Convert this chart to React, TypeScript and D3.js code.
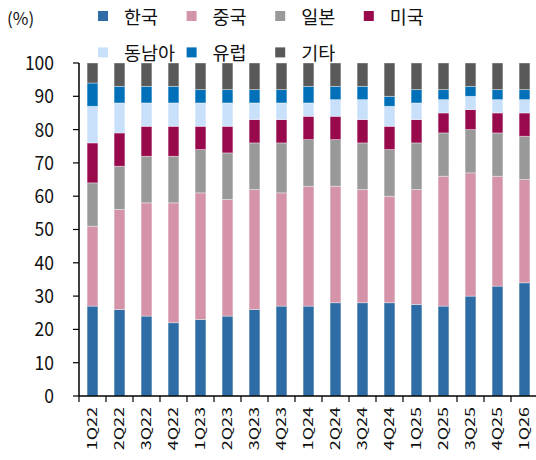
import React from 'react';
import * as d3 from 'd3';

// quarters on the x axis
const quarters = ['1Q22', '2Q22', '3Q22', '4Q22', '1Q23', '2Q23', '3Q23', '4Q23', '1Q24', '2Q24', '3Q24', '4Q24', '1Q25', '2Q25', '3Q25', '4Q25', '1Q26'];

// share by region (%)
const korea = [27, 26, 24, 22, 23, 24, 26, 27, 27, 28, 28, 28, 27.5, 27, 30, 33, 34];
const china = [24, 30, 34, 36, 38, 35, 36, 34, 36, 35, 34, 32, 34.5, 39, 37, 33, 31];
const japan = [13, 13, 14, 14, 13, 14, 14, 15, 14, 14, 14, 14, 14, 13, 13, 13, 13];
const usa = [12, 10, 9, 9, 7, 8, 7, 7, 7, 7, 7, 7, 7, 6, 6, 6, 7];
const seAsia = [11, 9, 7, 7, 7, 7, 5, 5, 4, 5, 6, 6, 5, 4, 4, 4, 4];
const europe = [7, 5, 5, 5, 4, 4, 4, 4, 5, 4, 4, 3, 4, 3, 3, 3, 3];
const others = [6, 7, 7, 7, 8, 8, 8, 8, 7, 7, 7, 10, 8, 8, 7, 8, 8];

const seriesNames = ['한국', '중국', '일본', '미국', '동남아', '유럽', '기타'];
const seriesValues = [korea, china, japan, usa, seAsia, europe, others];
const colors = ['#2d6ca5', '#d493a8', '#999999', '#990a4d', '#c9e0fb', '#0070b8', '#595959'];

const yTicks = [0, 10, 20, 30, 40, 50, 60, 70, 80, 90, 100];

const width = 536;
const height = 460;
const margin = { top: 63, right: 0, bottom: 64, left: 79 };
const font = '"Noto Sans CJK KR", "Noto Sans", sans-serif';

export default function App() {
  const rows = quarters.map((q, i) => {
    const r: any = { q };
    seriesNames.forEach((s, k) => { r[s] = seriesValues[k][i]; });
    return r;
  });
  const stacked = d3.stack().keys(seriesNames)(rows);

  const x = d3.scaleBand()
    .domain(quarters)
    .range([margin.left, margin.left + 27 * quarters.length])
    .paddingInner(0.6)
    .paddingOuter(0.3);
  const bandStep = x.step();
  const y = d3.scaleLinear().domain([0, 100]).range([height - margin.bottom, margin.top]);
  const baseY = y(0);

  return (
    <svg width={width} height={height} style={{ position: 'absolute', left: 0, top: 0 }} fontFamily={font}>
      {/* unit label */}
      <text x={7} y={25} fontSize={17} fill="#111">(%)</text>

      {/* legend */}
      {seriesNames.map((s, k) => {
        const col = k % 4;
        const row = Math.floor(k / 4);
        const lx = 98 + col * 88.6;
        const ly = 11 + row * 36.4;
        return (
          <g key={s}>
            <rect x={lx} y={ly} width={10} height={10} fill={colors[k]} />
            <text x={lx + 26} y={ly + 13} fontSize={18.5} fill="#111">{s}</text>
          </g>
        );
      })}

      {/* bars */}
      {stacked.map((layer, k) => (
        <g key={layer.key} fill={colors[k]}>
          {layer.map((d, i) => (
            <rect
              key={i}
              x={x(quarters[i])}
              y={y(d[1])}
              width={x.bandwidth()}
              height={y(d[0]) - y(d[1])}
              stroke="#ffffff"
              strokeOpacity={0.45}
              strokeWidth={0.8}
            />
          ))}
        </g>
      ))}

      {/* y axis */}
      <line x1={margin.left} x2={margin.left} y1={y(100)} y2={baseY} stroke="#000" strokeWidth={1.5} />
      {yTicks.map(t => (
        <g key={t}>
          <line x1={margin.left - 6} x2={margin.left} y1={y(t)} y2={y(t)} stroke="#000" strokeWidth={1.2} />
          <text
            transform={`translate(54,${y(t)}) scale(1,1.1)`}
            dy="0.36em"
            textAnchor="end"
            fontSize={17.5}
            fill="#111"
          >
            {t}
          </text>
        </g>
      ))}

      {/* x axis */}
      <line x1={margin.left} x2={width} y1={baseY} y2={baseY} stroke="#000" strokeWidth={1.5} />
      {quarters.map((q, i) => {
        const bx = margin.left + i * bandStep;
        const cx = (x(q) as number) + x.bandwidth() / 2;
        return (
          <g key={q}>
            <line x1={bx} x2={bx} y1={baseY} y2={baseY + 6} stroke="#000" strokeWidth={1.2} />
            <text
              transform={`translate(${cx},${baseY + 11}) rotate(-90) scale(1.38,1)`}
              textAnchor="end"
              dy="0.36em"
              fontSize={13}
              fill="#111"
            >
              {q}
            </text>
          </g>
        );
      })}
    </svg>
  );
}
